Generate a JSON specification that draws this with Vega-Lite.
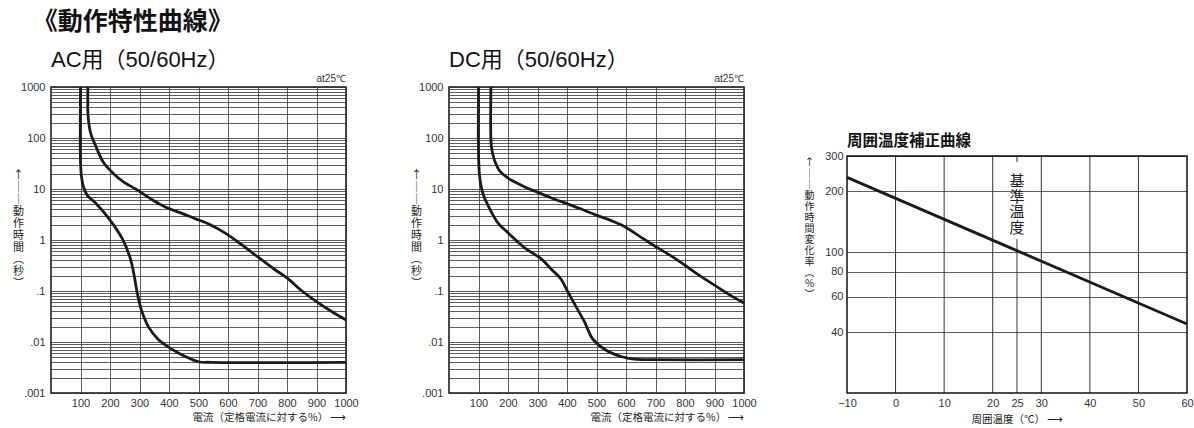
{
  "$schema": "https://vega.github.io/schema/vega-lite/v6.json",
  "background": "white",
  "padding": {"left": 11, "top": 10, "right": 0, "bottom": 0},
  "title": {"text": "《動作特性曲線》", "anchor": "start", "frame": "bounds", "font": "Noto Sans CJK JP", "fontSize": 25, "fontWeight": "bold", "color": "#111", "offset": 13, "dx": 21},
  "config": {
    "view": {"stroke": "#111", "strokeWidth": 1.5},
    "axis": {"labelFont": "Liberation Sans", "labelFontSize": 11, "labelColor": "#333", "titleFont": "Noto Sans CJK JP", "titleFontWeight": "normal", "titleColor": "#222", "ticks": false, "domain": false, "gridColor": "#333", "gridOpacity": 1, "gridWidth": 0.8, "labelFlush": false, "labelOverlap": false},
    "title": {"font": "Noto Sans CJK JP"}
  },
  "datasets": {
    "ac": [
      {"curve": "min", "i": 1, "x": 100, "y": 1000},
      {"curve": "min", "i": 2, "x": 100, "y": 35},
      {"curve": "min", "i": 3, "x": 103, "y": 18},
      {"curve": "min", "i": 4, "x": 110, "y": 11},
      {"curve": "min", "i": 5, "x": 123, "y": 7.5},
      {"curve": "min", "i": 6, "x": 151, "y": 5.3},
      {"curve": "min", "i": 7, "x": 197, "y": 2.6},
      {"curve": "min", "i": 8, "x": 242, "y": 1.05},
      {"curve": "min", "i": 9, "x": 268, "y": 0.45},
      {"curve": "min", "i": 10, "x": 282, "y": 0.2},
      {"curve": "min", "i": 11, "x": 291, "y": 0.1},
      {"curve": "min", "i": 12, "x": 305, "y": 0.045},
      {"curve": "min", "i": 13, "x": 330, "y": 0.02},
      {"curve": "min", "i": 14, "x": 362, "y": 0.0115},
      {"curve": "min", "i": 15, "x": 405, "y": 0.0075},
      {"curve": "min", "i": 16, "x": 455, "y": 0.0052},
      {"curve": "min", "i": 17, "x": 500, "y": 0.0041},
      {"curve": "min", "i": 18, "x": 540, "y": 0.004},
      {"curve": "min", "i": 19, "x": 1000, "y": 0.004},
      {"curve": "max", "i": 1, "x": 125, "y": 1000},
      {"curve": "max", "i": 2, "x": 125, "y": 330},
      {"curve": "max", "i": 3, "x": 128, "y": 200},
      {"curve": "max", "i": 4, "x": 135, "y": 120},
      {"curve": "max", "i": 5, "x": 151, "y": 71},
      {"curve": "max", "i": 6, "x": 178, "y": 33},
      {"curve": "max", "i": 7, "x": 212, "y": 20},
      {"curve": "max", "i": 8, "x": 248, "y": 13.5},
      {"curve": "max", "i": 9, "x": 287, "y": 10},
      {"curve": "max", "i": 10, "x": 340, "y": 6.3},
      {"curve": "max", "i": 11, "x": 389, "y": 4.4},
      {"curve": "max", "i": 12, "x": 440, "y": 3.4},
      {"curve": "max", "i": 13, "x": 490, "y": 2.6},
      {"curve": "max", "i": 14, "x": 540, "y": 2.0},
      {"curve": "max", "i": 15, "x": 592, "y": 1.35},
      {"curve": "max", "i": 16, "x": 645, "y": 0.82},
      {"curve": "max", "i": 17, "x": 700, "y": 0.47},
      {"curve": "max", "i": 18, "x": 756, "y": 0.27},
      {"curve": "max", "i": 19, "x": 800, "y": 0.18},
      {"curve": "max", "i": 20, "x": 851, "y": 0.1},
      {"curve": "max", "i": 21, "x": 900, "y": 0.062},
      {"curve": "max", "i": 22, "x": 950, "y": 0.04},
      {"curve": "max", "i": 23, "x": 1000, "y": 0.027}
    ],
    "dc": [
      {"curve": "min", "i": 1, "x": 100, "y": 1000},
      {"curve": "min", "i": 2, "x": 100, "y": 50},
      {"curve": "min", "i": 3, "x": 103, "y": 20},
      {"curve": "min", "i": 4, "x": 108, "y": 12},
      {"curve": "min", "i": 5, "x": 118, "y": 7.2},
      {"curve": "min", "i": 6, "x": 133, "y": 4.7},
      {"curve": "min", "i": 7, "x": 165, "y": 2.2},
      {"curve": "min", "i": 8, "x": 199, "y": 1.4},
      {"curve": "min", "i": 9, "x": 230, "y": 0.95},
      {"curve": "min", "i": 10, "x": 261, "y": 0.67},
      {"curve": "min", "i": 11, "x": 312, "y": 0.43},
      {"curve": "min", "i": 12, "x": 346, "y": 0.27},
      {"curve": "min", "i": 13, "x": 380, "y": 0.17},
      {"curve": "min", "i": 14, "x": 402, "y": 0.098},
      {"curve": "min", "i": 15, "x": 430, "y": 0.05},
      {"curve": "min", "i": 16, "x": 459, "y": 0.025},
      {"curve": "min", "i": 17, "x": 487, "y": 0.0115},
      {"curve": "min", "i": 18, "x": 527, "y": 0.0072},
      {"curve": "min", "i": 19, "x": 583, "y": 0.0052},
      {"curve": "min", "i": 20, "x": 628, "y": 0.0046},
      {"curve": "min", "i": 21, "x": 700, "y": 0.0045},
      {"curve": "min", "i": 22, "x": 1000, "y": 0.0045},
      {"curve": "max", "i": 1, "x": 142, "y": 1000},
      {"curve": "max", "i": 2, "x": 142, "y": 95},
      {"curve": "max", "i": 3, "x": 145, "y": 60},
      {"curve": "max", "i": 4, "x": 151, "y": 42},
      {"curve": "max", "i": 5, "x": 160, "y": 30},
      {"curve": "max", "i": 6, "x": 171, "y": 23},
      {"curve": "max", "i": 7, "x": 199, "y": 16.5},
      {"curve": "max", "i": 8, "x": 250, "y": 11.5},
      {"curve": "max", "i": 9, "x": 301, "y": 8.6},
      {"curve": "max", "i": 10, "x": 350, "y": 6.6},
      {"curve": "max", "i": 11, "x": 402, "y": 5.1},
      {"curve": "max", "i": 12, "x": 450, "y": 4.0},
      {"curve": "max", "i": 13, "x": 504, "y": 3.0},
      {"curve": "max", "i": 14, "x": 550, "y": 2.4},
      {"curve": "max", "i": 15, "x": 590, "y": 1.9},
      {"curve": "max", "i": 16, "x": 640, "y": 1.25},
      {"curve": "max", "i": 17, "x": 696, "y": 0.77},
      {"curve": "max", "i": 18, "x": 750, "y": 0.5},
      {"curve": "max", "i": 19, "x": 800, "y": 0.32},
      {"curve": "max", "i": 20, "x": 850, "y": 0.2},
      {"curve": "max", "i": 21, "x": 900, "y": 0.13},
      {"curve": "max", "i": 22, "x": 950, "y": 0.085},
      {"curve": "max", "i": 23, "x": 1000, "y": 0.058}
    ],
    "notes": [{"note": "at25℃", "x": 1000, "y": 1000}],
    "temp": [{"x": -10, "y": 235}, {"x": 60, "y": 44}],
    "tgrid": [
      {"x": 0, "y": 20, "y2": 300},
      {"x": 10, "y": 20, "y2": 300},
      {"x": 20, "y": 20, "y2": 300},
      {"x": 25, "y": 20, "y2": 116},
      {"x": 25, "y": 280, "y2": 300},
      {"x": 30, "y": 20, "y2": 300},
      {"x": 40, "y": 20, "y2": 300},
      {"x": 50, "y": 20, "y2": 300}
    ],
    "tframe": [{"x": -10, "x2": 60, "y": 20, "y2": 300}],
    "tlabels": [
      {"label": "基\n準\n温\n度", "x": 25, "y": 225}
    ],
    "ttitle": [{"label": "周囲温度補正曲線", "x": -10, "y": 300}]
  },
  "bounds": "flush",
  "spacing": 103,
  "hconcat": [
    {
      "width": 295,
      "height": 306,
      "title": {"text": "AC用（50/60Hz）", "anchor": "start", "frame": "group", "fontSize": 22, "fontWeight": "normal", "font": "Liberation Sans, Noto Sans CJK JP", "color": "#111", "offset": 2},
      "encoding": {
        "x": {"field": "x", "type": "quantitative", "scale": {"domain": [0, 1000], "nice": false},
          "axis": {"values": [100, 200, 300, 400, 500, 600, 700, 800, 900, 1000], "format": "d", "title": "電流（定格電流に対する%）  ⟶", "titleFontSize": 10.5, "titleAnchor": "end", "labelPadding": 4, "titlePadding": 4}},
        "y": {"field": "y", "type": "quantitative", "scale": {"type": "log", "domain": [0.001, 1000], "nice": false},
          "axis": {"values": [0.001, 0.002, 0.003, 0.004, 0.005, 0.006, 0.007, 0.008, 0.009, 0.01, 0.02, 0.03, 0.04, 0.05, 0.06, 0.07, 0.08, 0.09, 0.1, 0.2, 0.3, 0.4, 0.5, 0.6, 0.7, 0.8, 0.9, 1, 2, 3, 4, 5, 6, 7, 8, 9, 10, 20, 30, 40, 50, 60, 70, 80, 90, 100, 200, 300, 400, 500, 600, 700, 800, 900, 1000],
            "labelExpr": "indexof([1000, 100, 10, 1, 0.1, 0.01, 0.001], datum.value) >= 0 ? (datum.value >= 1 ? toString(datum.value) : replace(toString(datum.value), '0.', '.')) : ''",
            "labelPadding": 6,
            "title": ["↑", "│", "│", "動", "作", "時", "間", "︵", "秒", "︶"],
            "titleAngle": 0, "titleFontSize": 11, "titleLineHeight": 12, "titleAlign": "center", "titleBaseline": "top", "titleX": -33, "titleY": 82}}
      },
      "layer": [
        {"data": {"name": "ac"}, "mark": {"type": "line", "interpolate": "catmull-rom", "strokeWidth": 2.8, "color": "#1a1a1a"},
          "encoding": {"detail": {"field": "curve"}, "order": {"field": "i", "type": "quantitative"}}},
        {"data": {"name": "notes"}, "mark": {"type": "text", "align": "right", "baseline": "middle", "dy": -8, "fontSize": 10, "font": "Liberation Sans", "color": "#333"},
          "encoding": {"text": {"field": "note"}}}
      ]
    },
    {
      "width": 295,
      "height": 306,
      "title": {"text": "DC用（50/60Hz）", "anchor": "start", "frame": "group", "fontSize": 22, "fontWeight": "normal", "font": "Liberation Sans, Noto Sans CJK JP", "color": "#111", "offset": 2},
      "encoding": {
        "x": {"field": "x", "type": "quantitative", "scale": {"domain": [0, 1000], "nice": false},
          "axis": {"values": [100, 200, 300, 400, 500, 600, 700, 800, 900, 1000], "format": "d", "title": "電流（定格電流に対する%）  ⟶", "titleFontSize": 10.5, "titleAnchor": "end", "labelPadding": 4, "titlePadding": 4}},
        "y": {"field": "y", "type": "quantitative", "scale": {"type": "log", "domain": [0.001, 1000], "nice": false},
          "axis": {"values": [0.001, 0.002, 0.003, 0.004, 0.005, 0.006, 0.007, 0.008, 0.009, 0.01, 0.02, 0.03, 0.04, 0.05, 0.06, 0.07, 0.08, 0.09, 0.1, 0.2, 0.3, 0.4, 0.5, 0.6, 0.7, 0.8, 0.9, 1, 2, 3, 4, 5, 6, 7, 8, 9, 10, 20, 30, 40, 50, 60, 70, 80, 90, 100, 200, 300, 400, 500, 600, 700, 800, 900, 1000],
            "labelExpr": "indexof([1000, 100, 10, 1, 0.1, 0.01, 0.001], datum.value) >= 0 ? (datum.value >= 1 ? toString(datum.value) : replace(toString(datum.value), '0.', '.')) : ''",
            "labelPadding": 6,
            "title": ["↑", "│", "│", "動", "作", "時", "間", "︵", "秒", "︶"],
            "titleAngle": 0, "titleFontSize": 11, "titleLineHeight": 12, "titleAlign": "center", "titleBaseline": "top", "titleX": -33, "titleY": 82}}
      },
      "layer": [
        {"data": {"name": "dc"}, "mark": {"type": "line", "interpolate": "catmull-rom", "strokeWidth": 2.8, "color": "#1a1a1a"},
          "encoding": {"detail": {"field": "curve"}, "order": {"field": "i", "type": "quantitative"}}},
        {"data": {"name": "notes"}, "mark": {"type": "text", "align": "right", "baseline": "middle", "dy": -8, "fontSize": 10, "font": "Liberation Sans", "color": "#333"},
          "encoding": {"text": {"field": "note"}}}
      ]
    },
    {
      "width": 340,
      "height": 306,
      "view": {"stroke": null},
      "encoding": {
        "x": {"field": "x", "type": "quantitative", "scale": {"domain": [-10, 60], "nice": false, "zero": false},
          "axis": {"values": [-10, 0, 10, 20, 25, 30, 40, 50, 60], "grid": false, "title": "周囲温度（℃）  ⟶", "titleFontSize": 10.5, "labelPadding": 4, "titlePadding": 6}},
        "y": {"field": "y", "type": "quantitative", "scale": {"type": "log", "domain": [20, 660], "nice": false},
          "axis": {"values": [40, 60, 80, 100, 200, 300], "format": "d", "labelPadding": 4,
            "title": ["↑", "│", "│", "動", "作", "時", "間", "変", "化", "率", "︵", "%", "︶"],
            "titleAngle": 0, "titleFontSize": 10, "titleLineHeight": 11, "titleAlign": "center", "titleBaseline": "top", "titleX": -38, "titleY": 70}}
      },
      "layer": [
        {"data": {"name": "tgrid"}, "mark": {"type": "rule", "color": "#333", "strokeWidth": 1}, "encoding": {"y2": {"field": "y2"}}},
        {"data": {"name": "tframe"}, "mark": {"type": "rect", "fill": "transparent", "stroke": "#111", "strokeWidth": 1.5}, "encoding": {"x2": {"field": "x2"}, "y2": {"field": "y2"}}},
        {"data": {"name": "temp"}, "mark": {"type": "line", "strokeWidth": 2.8, "color": "#1a1a1a"}},
        {"data": {"name": "tlabels"}, "mark": {"type": "text", "lineBreak": "\n", "fontSize": 15, "lineHeight": 15.5, "baseline": "middle", "align": "center", "font": "Noto Sans CJK JP", "color": "#222"}, "encoding": {"text": {"field": "label"}}},
        {"data": {"name": "ttitle"}, "mark": {"type": "text", "align": "left", "baseline": "middle", "dy": -15, "fontSize": 15.5, "fontWeight": "bold", "font": "Noto Sans CJK JP", "color": "#111"}, "encoding": {"text": {"field": "label"}}}
      ]
    }
  ]
}
